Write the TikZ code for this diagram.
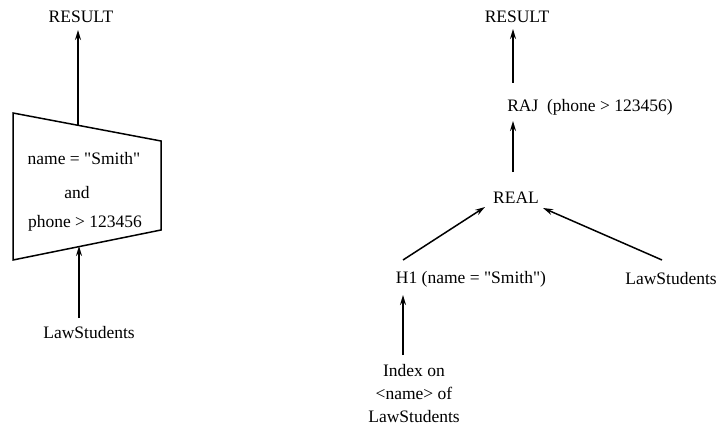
\documentclass[tikz,border=0pt]{standalone}
\usepackage{fontspec}
\setmainfont{Liberation Serif}
\usetikzlibrary{arrows.meta}
% straight double quote, bypassing the TeX ligature mapping
\newcommand{\dq}{\XeTeXglyph\XeTeXcharglyph"0022\relax}
\begin{document}
\begin{tikzpicture}[x=1pt,y=-1pt,
  lbl/.style={inner sep=1pt,font=\fontsize{17.5}{23}\selectfont},
  flow/.style={line width=1.5pt,-{Stealth[length=10pt,width=6pt]}},
  box/.style={line width=1.5pt,line join=miter}]
\useasboundingbox (0,0) rectangle (718,428);

% ---- left: single selection operator ----
\node[lbl] (resL) at (81,17) {RESULT};
\draw[box] (13,113) coordinate (tl) -- (161,141) coordinate (tr)
  -- (161,230) coordinate (br) -- (13,260) coordinate (bl) -- cycle;
\coordinate (topIn) at (78,125);
\coordinate (botIn) at (79,246);
\node[lbl] (c1) at (84,159) {name = \dq Smith\dq};
\node[lbl] (c2) at (77,193) {and};
\node[lbl] (c3) at (85,223) {phone > 123456};
\node[lbl] (lawL) at (89,333) {LawStudents};
\draw[flow] (topIn) -- (78,30);
\draw[flow] (79,318) -- (botIn);

% ---- right: index-based plan ----
\node[lbl] (resR) at (517,17) {RESULT};
\node[lbl] (raj) at (590,107) {RAJ\ \ (phone > 123456)};
\node[lbl] (real) at (516,198) {REAL};
\node[lbl] (h1) at (471,279) {H1 (name = \dq Smith\dq)};
\node[lbl] (lawR) at (671,279) {LawStudents};
\node[lbl,align=center] (idx) at (414,394)
  {Index on\\<name> of\\LawStudents};

\draw[flow] (513,83) -- (513,29);
\draw[flow] (513,172) -- (513,121);
\draw[flow] (403,260) -- (485,207);
\draw[flow] (662,260) -- (543,208);
\draw[flow] (403,355) -- (403,295);
\end{tikzpicture}
\end{document}
